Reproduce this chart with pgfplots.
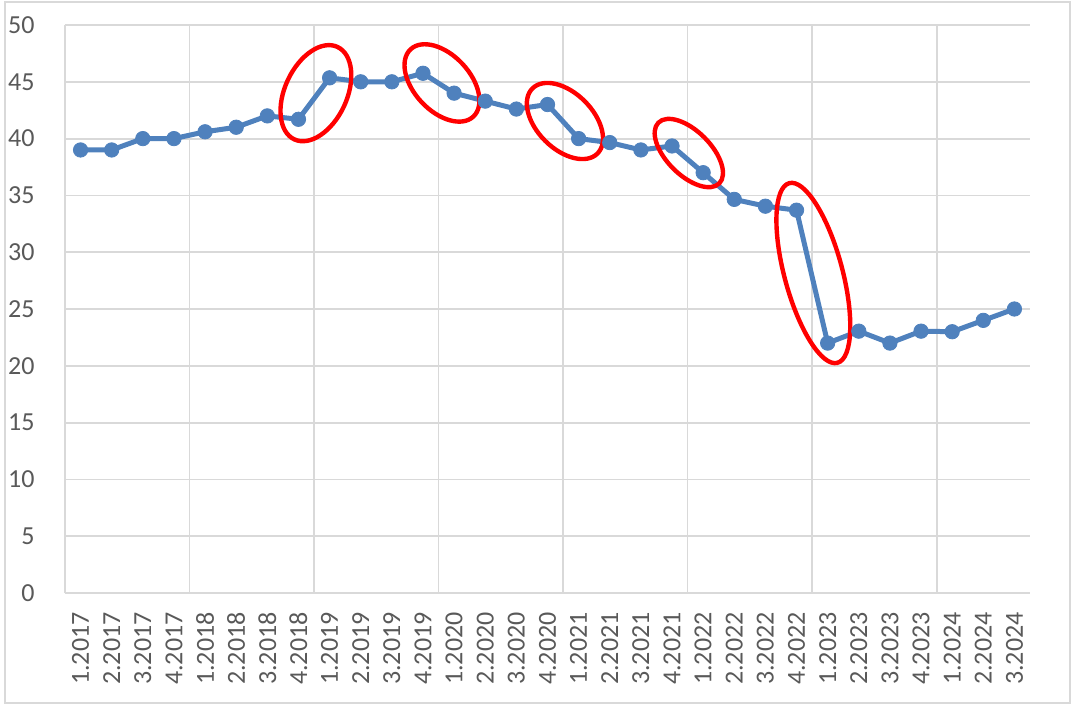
\documentclass[border=0pt]{standalone}
\usepackage{pgfplots}
\pgfplotsset{compat=1.18}
\usepackage{fontspec}
\setmainfont{Carlito}
\definecolor{lineblue}{RGB}{79,129,189}
\definecolor{gridgray}{RGB}{217,217,217}
\definecolor{labgray}{RGB}{89,89,89}
\begin{document}
\begin{tikzpicture}
\begin{axis}[
  name=ax,
  scale only axis, width=482.5pt, height=284pt,
  xmin=-0.5, xmax=30.5, ymin=0, ymax=50,
  clip=false,
  ytick={0,5,...,50},
  xtick={0,...,30},
  xticklabels={1.2017,2.2017,3.2017,4.2017,1.2018,2.2018,3.2018,4.2018,1.2019,2.2019,3.2019,4.2019,1.2020,2.2020,3.2020,4.2020,1.2021,2.2021,3.2021,4.2021,1.2022,2.2022,3.2022,4.2022,1.2023,2.2023,3.2023,4.2023,1.2024,2.2024,3.2024},
  minor xtick={-0.5,3.5,7.5,11.5,15.5,19.5,23.5,27.5},
  xminorgrids, ymajorgrids,
  major grid style={gridgray, line width=0.9pt},
  minor grid style={gridgray, line width=0.9pt},
  axis line style={draw=none},
  major tick length=0pt, minor tick length=0pt,
  tick style={draw=none},
  /pgf/number format/assume math mode=true,
  ticklabel style={font=\fontsize{13}{15}\selectfont, text=labgray, inner sep=0pt},
  yticklabel style={anchor=east},
  yticklabel shift={15pt},
  xticklabel style={rotate=90, anchor=east},
  xticklabel shift={9.5pt},
]
\addplot[lineblue, line width=2.5pt, mark=*, mark size=3.6pt,
  mark options={solid, fill=lineblue, draw=lineblue, line width=0.4pt}]
coordinates {
(0,39.0) (1,39.0) (2,40.0) (3,40.0) (4,40.6) (5,41.0) (6,42.0) (7,41.7)
(8,45.35) (9,45.0) (10,45.0) (11,45.75) (12,44.0) (13,43.3) (14,42.6) (15,43.0)
(16,40.0) (17,39.65) (18,39.0) (19,39.35) (20,37.0) (21,34.65) (22,34.05) (23,33.7)
(24,22.0) (25,23.05) (26,22.0) (27,23.05) (28,23.0) (29,24.0) (30,25.0)
};
\draw[red, line width=2.2pt, rotate around={65:(axis cs:7.56,44.0)}] (axis cs:7.56,44.0) ellipse [x radius=25.5pt, y radius=15.5pt];
\draw[red, line width=2.2pt, rotate around={-47:(axis cs:11.61,44.9)}] (axis cs:11.61,44.9) ellipse [x radius=23pt, y radius=14pt];
\draw[red, line width=2.2pt, rotate around={-45:(axis cs:15.56,41.55)}] (axis cs:15.56,41.55) ellipse [x radius=23pt, y radius=14pt];
\draw[red, line width=2.2pt, rotate around={-45:(axis cs:19.54,38.73)}] (axis cs:19.54,38.73) ellipse [x radius=21.5pt, y radius=11pt];
\draw[red, line width=2.2pt, rotate around={-75:(axis cs:23.54,28.17)}] (axis cs:23.54,28.17) ellipse [x radius=46.5pt, y radius=14.5pt];
\end{axis}
\draw[gridgray, line width=0.75pt] ([shift={(-30pt,-55pt)}]ax.south west) rectangle ([shift={(502.5pt,295.5pt)}]ax.south west);
\path[use as bounding box] ([shift={(-32.5pt,-57pt)}]ax.south west) rectangle ([shift={(505.5pt,296.5pt)}]ax.south west);
\end{tikzpicture}
\end{document}
